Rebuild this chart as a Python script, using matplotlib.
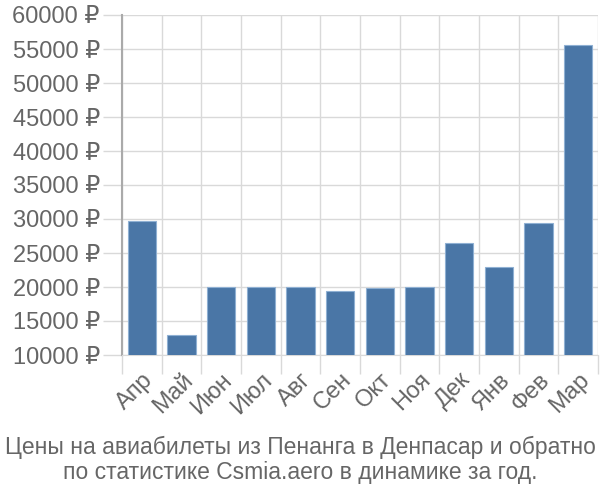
import matplotlib.pyplot as plt
from matplotlib.ticker import FixedLocator, FuncFormatter

months = ['Апр', 'Май', 'Июн', 'Июл', 'Авг', 'Сен', 'Окт', 'Ноя', 'Дек', 'Янв', 'Фев', 'Мар']
prices = [29750, 13000, 20000, 20000, 20000, 19400, 19800, 20000, 26500, 22950, 29400, 55600]

plt.rcParams['font.family'] = ['Liberation Sans', 'DejaVu Sans']

fig = plt.figure(figsize=(6, 5), dpi=100)
ax = fig.add_axes([122 / 600, 1 - 355 / 500, 476 / 600, 340 / 500])

x = list(range(len(months)))
ax.bar(x, prices, width=0.71, color='#4a76a6', edgecolor='#8fb0d3', linewidth=0.8, zorder=3)

ax.set_xlim(-0.5, len(months) - 0.5)
ax.set_ylim(10000, 60000)
ax.set_yticks(range(10000, 60001, 5000))
ax.yaxis.set_major_formatter(FuncFormatter(lambda v, p: f'{int(v)} ₽'))

ax.set_xticks(x)
ax.set_xticklabels(months, rotation=45, ha='right', va='top', rotation_mode='anchor')
ax.xaxis.set_minor_locator(FixedLocator([i - 0.5 for i in range(len(months) + 1)]))

ax.tick_params(axis='x', which='major', length=0, pad=10, labelsize=17, labelcolor='#666666')
ax.tick_params(axis='x', which='minor', length=14, width=1, color='#d9d9d9')
ax.tick_params(axis='y', which='major', length=14, width=1, color='#d9d9d9', pad=2,
               labelsize=17, labelcolor='#666666')

ax.grid(True, axis='y', color='#d9d9d9', linewidth=1, zorder=0)
ax.grid(True, axis='x', which='minor', color='#d9d9d9', linewidth=1, zorder=0)

for s in ['top', 'right']:
    ax.spines[s].set_visible(False)
ax.spines['bottom'].set_color('#d9d9d9')
ax.spines['left'].set_color('#aaaaaa')
ax.spines['left'].set_linewidth(1.5)

fig.text(0.5, 1 - 447 / 500, 'Цены на авиабилеты из Пенанга в Денпасар и обратно',
         ha='center', va='center', fontsize=16.5, color='#666666')
fig.text(0.5, 1 - 473 / 500, 'по статистике Csmia.aero в динамике за год.',
         ha='center', va='center', fontsize=16.5, color='#666666')

fig.savefig('out.png')
